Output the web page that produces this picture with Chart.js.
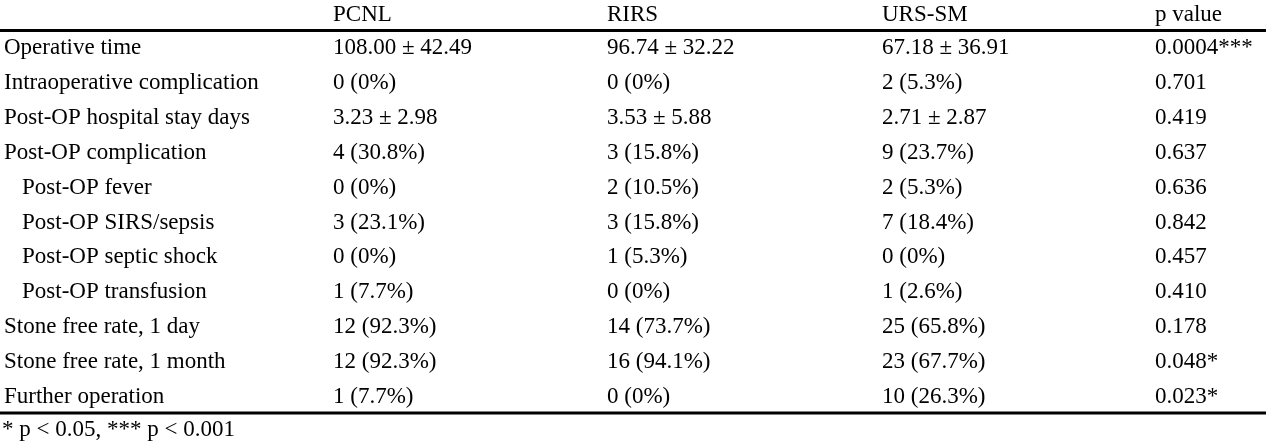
<!DOCTYPE html>
<html>
<head>
<meta charset="utf-8">
<script src="https://cdn.jsdelivr.net/npm/chart.js@4"></script>
<style>
html,body{margin:0;padding:0;background:#fff;}
canvas{display:block;}
</style>
</head>
<body>
<canvas id="c" width="1269" height="442"></canvas>
<script>
// ---- data ----
const headers = ["PCNL", "RIRS", "URS-SM", "p value"];
const rowLabels = [
  "Operative time",
  "Intraoperative complication",
  "Post-OP hospital stay days",
  "Post-OP complication",
  "Post-OP fever",
  "Post-OP SIRS/sepsis",
  "Post-OP septic shock",
  "Post-OP transfusion",
  "Stone free rate, 1 day",
  "Stone free rate, 1 month",
  "Further operation"
];
const subRow = [false, false, false, false, true, true, true, true, false, false, false];
const pcnl = ["108.00 \u00b1 42.49", "0 (0%)", "3.23 \u00b1 2.98", "4 (30.8%)", "0 (0%)", "3 (23.1%)", "0 (0%)", "1 (7.7%)", "12 (92.3%)", "12 (92.3%)", "1 (7.7%)"];
const rirs = ["96.74 \u00b1 32.22", "0 (0%)", "3.53 \u00b1 5.88", "3 (15.8%)", "2 (10.5%)", "3 (15.8%)", "1 (5.3%)", "0 (0%)", "14 (73.7%)", "16 (94.1%)", "0 (0%)"];
const ursSm = ["67.18 \u00b1 36.91", "2 (5.3%)", "2.71 \u00b1 2.87", "9 (23.7%)", "2 (5.3%)", "7 (18.4%)", "0 (0%)", "1 (2.6%)", "25 (65.8%)", "23 (67.7%)", "10 (26.3%)"];
const pValues = ["0.0004***", "0.701", "0.419", "0.637", "0.636", "0.842", "0.457", "0.410", "0.178", "0.048*", "0.023*"];
const footnote = "* p < 0.05, *** p < 0.001";

// ---- layout (positions on the x scale) ----
const labelX = 4, indentX = 22;
const colX = [333, 607, 882, 1155];
const FONT = "23px 'Liberation Serif', 'Times New Roman', serif";

const columns = [pcnl, rirs, ursSm, pValues];

const datasets = [];
datasets.push({
  label: "labels",
  texts: rowLabels,
  data: rowLabels.map((r, i) => ({x: subRow[i] ? indentX : labelX, y: r}))
});
columns.forEach((col, k) => {
  datasets.push({
    label: headers[k],
    texts: col,
    data: rowLabels.map((r) => ({x: colX[k], y: r}))
  });
});
datasets.forEach(d => { d.pointRadius = 0; d.pointHoverRadius = 0; d.showLine = false; });

const tablePlugin = {
  id: 'tableText',
  beforeDraw(chart) {
    const ctx = chart.ctx;
    ctx.save();
    ctx.fillStyle = '#fff';
    ctx.fillRect(0, 0, chart.width, chart.height);
    ctx.restore();
  },
  afterDatasetsDraw(chart) {
    const ctx = chart.ctx;
    const ca = chart.chartArea;
    const xs = chart.scales.x;
    ctx.save();
    ctx.font = FONT;
    ctx.fillStyle = '#000';
    ctx.textAlign = 'left';
    ctx.textBaseline = 'alphabetic';
    chart.data.datasets.forEach((ds, i) => {
      const meta = chart.getDatasetMeta(i);
      meta.data.forEach((el, j) => {
        ctx.fillText(ds.texts[j], el.x, el.y + 7.5);
      });
    });
    headers.forEach((h, k) => {
      ctx.fillText(h, xs.getPixelForValue(colX[k]), ca.top - 8);
    });
    ctx.fillText(footnote, xs.getPixelForValue(2), ca.bottom + 22.5);
    ctx.strokeStyle = '#000';
    ctx.lineWidth = 3;
    ctx.beginPath();
    ctx.moveTo(xs.getPixelForValue(0), ca.top + 1.5);
    ctx.lineTo(xs.getPixelForValue(1266), ca.top + 1.5);
    ctx.moveTo(xs.getPixelForValue(0), ca.bottom);
    ctx.lineTo(xs.getPixelForValue(1266), ca.bottom);
    ctx.stroke();
    ctx.restore();
  }
};

new Chart(document.getElementById('c'), {
  type: 'scatter',
  data: { labels: rowLabels, datasets },
  options: {
    responsive: false,
    animation: false,
    devicePixelRatio: 1,
    events: [],
    layout: { padding: { left: 0, right: 3, top: 29, bottom: 29 } },
    plugins: { legend: { display: false }, tooltip: { enabled: false } },
    scales: {
      x: { type: 'linear', min: 0, max: 1266, display: false },
      y: { type: 'category', labels: rowLabels, offset: true, display: false }
    }
  },
  plugins: [tablePlugin]
});
</script>
</body>
</html>
